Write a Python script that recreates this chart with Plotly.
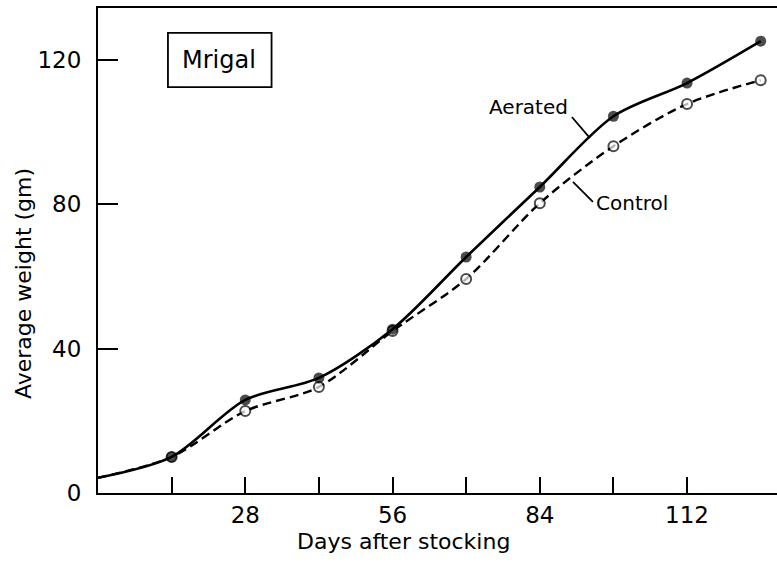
import plotly.graph_objects as go

days = [0, 14, 28, 42, 56, 70, 84, 98, 112, 126]
aerated = [4.2, 10.0, 25.8, 31.9, 45.4, 65.4, 84.8, 104.4, 113.6, 125.2]
control = [4.2, 10.0, 22.7, 29.4, 44.9, 59.3, 80.3, 96.1, 107.8, 114.4]
x_tickvals = [14, 28, 42, 56, 70, 84, 98, 112]
x_ticktext = ["", "28", "", "56", "", "84", "", "112"]
y_tickvals = [0, 40, 80, 120]
y_ticktext = ["0", "40", "80", "120"]

FONT = "DejaVu Sans"

fig = go.Figure()
fig.add_trace(go.Scatter(
    x=days, y=control, mode="lines+markers",
    line=dict(color="black", width=2.4, dash="9px,5px", shape="spline", smoothing=0.85),
    marker=dict(size=[0] + [10] * (len(days) - 1), color="white",
                line=dict(color="black", width=2), symbol="circle"),
    showlegend=False, cliponaxis=False,
))
fig.add_trace(go.Scatter(
    x=days, y=aerated, mode="lines+markers",
    line=dict(color="black", width=2.6, shape="spline", smoothing=0.85),
    marker=dict(size=[0] + [11] * (len(days) - 1), color="black",
                line=dict(color="black", width=0)),
    showlegend=False, cliponaxis=False,
))

# box label
fig.add_shape(type="rect", x0=13.3, x1=33.0, y0=112.5, y1=127.5,
              line=dict(color="black", width=1.8), fillcolor="rgba(0,0,0,0)")
fig.add_annotation(x=23.1, y=120, text="Mrigal", showarrow=False,
                   font=dict(family=FONT, size=24, color="black"))

# series labels with leaders
fig.add_annotation(x=81.9, y=107, text="Aerated", showarrow=False,
                   font=dict(family=FONT, size=20, color="black"))
fig.add_shape(type="line", x0=90.1, y0=104.2, x1=93.5, y1=98.4,
              line=dict(color="black", width=1.8))
fig.add_annotation(x=101.5, y=80.4, text="Control", showarrow=False,
                   font=dict(family=FONT, size=20, color="black"))
fig.add_shape(type="line", x0=90.3, y0=86.2, x1=94.1, y1=80.7,
              line=dict(color="black", width=1.8))

# axis titles
fig.add_annotation(xref="paper", yref="paper", x=(403 - 98) / 679, y=-(541 - 493) / 485,
                   xanchor="center", yanchor="middle",
                   text="Days after stocking", showarrow=False,
                   font=dict(family=FONT, size=22, color="black"))
fig.add_annotation(xref="paper", yref="paper", x=-(98 - 23) / 679, y=(493 - 284) / 485,
                   xanchor="center", yanchor="middle",
                   text="Average weight (gm)", showarrow=False, textangle=-90,
                   font=dict(family=FONT, size=22, color="black"))

fig.update_xaxes(
    range=[0, 129.1], tickvals=x_tickvals, ticktext=x_ticktext,
    ticks="inside", ticklen=16, tickwidth=2, tickcolor="black",
    showline=True, linecolor="black", linewidth=2, mirror=True,
    showgrid=False, zeroline=False, ticklabelstandoff=0,
    tickfont=dict(family=FONT, size=23, color="black"),
)
fig.update_yaxes(
    range=[0, 134.4], tickvals=y_tickvals, ticktext=y_ticktext,
    ticks="inside", ticklen=20, tickwidth=2, tickcolor="black",
    showline=True, linecolor="black", linewidth=2,
    showgrid=False, zeroline=False, ticklabelstandoff=10,
    tickfont=dict(family=FONT, size=23, color="black"),
)
fig.update_layout(
    width=777, height=565,
    margin=dict(l=98, r=0, t=8, b=72),
    paper_bgcolor="white", plot_bgcolor="white",
    font=dict(family=FONT, color="black"),
)
fig.write_html("out.html", config={"displayModeBar": False},
               post_script="document.body.style.margin='0';document.body.style.overflow='hidden';")
